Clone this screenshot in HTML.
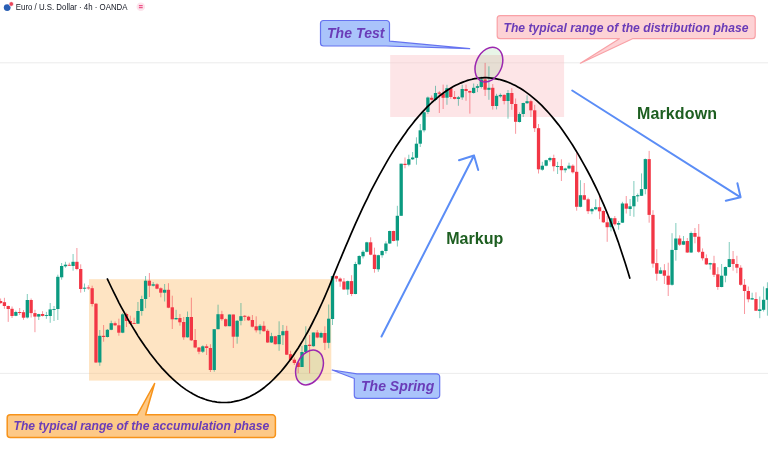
<!DOCTYPE html>
<html><head><meta charset="utf-8"><title>Wyckoff chart</title>
<style>
html,body{margin:0;padding:0;background:#fff;}
body{width:768px;height:457px;overflow:hidden;font-family:"Liberation Sans",sans-serif;}
svg{display:block;}
text{font-family:"Liberation Sans",sans-serif;}
.lbl{font-weight:bold;font-style:italic;fill:#6a3cb8;}
.grn{font-weight:bold;fill:#1d5e20;font-size:16px;}
</style></head><body>
<svg width="768" height="457" viewBox="0 0 768 457">
<rect width="768" height="457" fill="#ffffff"/>
<line x1="0" y1="62.8" x2="768" y2="62.8" stroke="#ececec" stroke-width="1"/>
<line x1="0" y1="373.4" x2="768" y2="373.4" stroke="#ececec" stroke-width="1"/>
<!-- range boxes -->
<rect x="89" y="279.2" width="242.3" height="101.4" fill="#fee4c3"/>
<rect x="390.2" y="55" width="173.9" height="62" fill="#fde5e7"/>
<line x1="89" y1="373.4" x2="331.3" y2="373.4" stroke="#f3d9b8" stroke-width="1"/>
<line x1="390.2" y1="62.8" x2="564.1" y2="62.8" stroke="#f2dadc" stroke-width="1"/>

<ellipse cx="488.9" cy="64.6" rx="12.8" ry="18.2" transform="rotate(25 488.9 64.6)" fill="rgba(76,175,80,0.13)" stroke="none"/>
<ellipse cx="309.5" cy="367.5" rx="12.8" ry="18.2" transform="rotate(25 309.5 367.5)" fill="rgba(76,175,80,0.13)" stroke="none"/>
<g id="candles">
<line x1="0.60" y1="298.5" x2="0.60" y2="303.8" stroke="#f23645" stroke-width="0.8" stroke-opacity="0.65"/>
<rect x="-1.05" y="301.0" width="3.3" height="2.1" fill="#f23645"/>
<line x1="4.42" y1="297.8" x2="4.42" y2="308.8" stroke="#f23645" stroke-width="0.8" stroke-opacity="0.65"/>
<rect x="2.77" y="302.2" width="3.3" height="3.8" fill="#f23645"/>
<line x1="8.23" y1="305.6" x2="8.23" y2="321.9" stroke="#f23645" stroke-width="0.8" stroke-opacity="0.65"/>
<rect x="6.58" y="306.0" width="3.3" height="3.0" fill="#f23645"/>
<line x1="12.04" y1="306.5" x2="12.04" y2="318.0" stroke="#f23645" stroke-width="0.8" stroke-opacity="0.65"/>
<rect x="10.39" y="308.8" width="3.3" height="7.2" fill="#f23645"/>
<line x1="15.86" y1="310.6" x2="15.86" y2="316.2" stroke="#0a9a80" stroke-width="0.8" stroke-opacity="0.65"/>
<rect x="14.21" y="312.0" width="3.3" height="3.8" fill="#0a9a80"/>
<line x1="19.68" y1="308.0" x2="19.68" y2="315.0" stroke="#f23645" stroke-width="0.8" stroke-opacity="0.65"/>
<rect x="18.03" y="312.0" width="3.3" height="1.0" fill="#f23645"/>
<line x1="23.49" y1="310.0" x2="23.49" y2="319.8" stroke="#f23645" stroke-width="0.8" stroke-opacity="0.65"/>
<rect x="21.84" y="312.2" width="3.3" height="5.5" fill="#f23645"/>
<line x1="27.30" y1="294.0" x2="27.30" y2="318.5" stroke="#0a9a80" stroke-width="0.8" stroke-opacity="0.65"/>
<rect x="25.66" y="300.0" width="3.3" height="17.5" fill="#0a9a80"/>
<line x1="31.12" y1="298.5" x2="31.12" y2="317.5" stroke="#f23645" stroke-width="0.8" stroke-opacity="0.65"/>
<rect x="29.47" y="300.0" width="3.3" height="13.1" fill="#f23645"/>
<line x1="34.94" y1="309.8" x2="34.94" y2="332.2" stroke="#f23645" stroke-width="0.8" stroke-opacity="0.65"/>
<rect x="33.29" y="313.1" width="3.3" height="3.5" fill="#f23645"/>
<line x1="38.75" y1="313.8" x2="38.75" y2="320.0" stroke="#0a9a80" stroke-width="0.8" stroke-opacity="0.65"/>
<rect x="37.10" y="314.1" width="3.3" height="2.5" fill="#0a9a80"/>
<line x1="42.56" y1="311.2" x2="42.56" y2="316.5" stroke="#f23645" stroke-width="0.8" stroke-opacity="0.65"/>
<rect x="40.91" y="314.0" width="3.3" height="1.9" fill="#f23645"/>
<line x1="46.38" y1="311.9" x2="46.38" y2="318.8" stroke="#0a9a80" stroke-width="0.8" stroke-opacity="0.65"/>
<rect x="44.73" y="315.0" width="3.3" height="0.9" fill="#0a9a80"/>
<line x1="50.20" y1="303.0" x2="50.20" y2="322.8" stroke="#0a9a80" stroke-width="0.8" stroke-opacity="0.65"/>
<rect x="48.55" y="309.4" width="3.3" height="6.6" fill="#0a9a80"/>
<line x1="54.01" y1="306.0" x2="54.01" y2="321.0" stroke="#0a9a80" stroke-width="0.8" stroke-opacity="0.65"/>
<rect x="52.36" y="309.0" width="3.3" height="0.9" fill="#0a9a80"/>
<line x1="57.83" y1="274.7" x2="57.83" y2="320.0" stroke="#0a9a80" stroke-width="0.8" stroke-opacity="0.65"/>
<rect x="56.18" y="276.8" width="3.3" height="32.2" fill="#0a9a80"/>
<line x1="61.64" y1="263.0" x2="61.64" y2="279.7" stroke="#0a9a80" stroke-width="0.8" stroke-opacity="0.65"/>
<rect x="59.99" y="266.0" width="3.3" height="11.3" fill="#0a9a80"/>
<line x1="65.45" y1="261.8" x2="65.45" y2="267.7" stroke="#0a9a80" stroke-width="0.8" stroke-opacity="0.65"/>
<rect x="63.80" y="264.7" width="3.3" height="1.6" fill="#0a9a80"/>
<line x1="69.27" y1="262.7" x2="69.27" y2="266.0" stroke="#f23645" stroke-width="0.8" stroke-opacity="0.65"/>
<rect x="67.62" y="264.8" width="3.3" height="0.9" fill="#f23645"/>
<line x1="73.08" y1="254.0" x2="73.08" y2="270.7" stroke="#0a9a80" stroke-width="0.8" stroke-opacity="0.65"/>
<rect x="71.43" y="261.8" width="3.3" height="4.2" fill="#0a9a80"/>
<line x1="76.90" y1="248.0" x2="76.90" y2="270.2" stroke="#f23645" stroke-width="0.8" stroke-opacity="0.65"/>
<rect x="75.25" y="261.8" width="3.3" height="7.2" fill="#f23645"/>
<line x1="80.71" y1="264.3" x2="80.71" y2="292.7" stroke="#f23645" stroke-width="0.8" stroke-opacity="0.65"/>
<rect x="79.06" y="269.0" width="3.3" height="20.0" fill="#f23645"/>
<line x1="84.53" y1="283.5" x2="84.53" y2="291.8" stroke="#0a9a80" stroke-width="0.8" stroke-opacity="0.65"/>
<rect x="82.88" y="287.7" width="3.3" height="1.0" fill="#0a9a80"/>
<line x1="88.34" y1="285.2" x2="88.34" y2="289.7" stroke="#f23645" stroke-width="0.8" stroke-opacity="0.65"/>
<rect x="86.69" y="287.5" width="3.3" height="0.9" fill="#f23645"/>
<line x1="92.16" y1="285.7" x2="92.16" y2="306.5" stroke="#f23645" stroke-width="0.8" stroke-opacity="0.65"/>
<rect x="90.51" y="288.2" width="3.3" height="15.8" fill="#f23645"/>
<line x1="95.97" y1="303.0" x2="95.97" y2="363.0" stroke="#f23645" stroke-width="0.8" stroke-opacity="0.65"/>
<rect x="94.32" y="303.7" width="3.3" height="58.8" fill="#f23645"/>
<line x1="99.79" y1="330.0" x2="99.79" y2="365.8" stroke="#0a9a80" stroke-width="0.8" stroke-opacity="0.65"/>
<rect x="98.14" y="335.8" width="3.3" height="26.7" fill="#0a9a80"/>
<line x1="103.60" y1="325.0" x2="103.60" y2="341.7" stroke="#f23645" stroke-width="0.8" stroke-opacity="0.65"/>
<rect x="101.95" y="335.8" width="3.3" height="1.2" fill="#f23645"/>
<line x1="107.42" y1="329.0" x2="107.42" y2="337.5" stroke="#0a9a80" stroke-width="0.8" stroke-opacity="0.65"/>
<rect x="105.77" y="329.8" width="3.3" height="7.2" fill="#0a9a80"/>
<line x1="111.23" y1="320.7" x2="111.23" y2="330.2" stroke="#0a9a80" stroke-width="0.8" stroke-opacity="0.65"/>
<rect x="109.58" y="323.2" width="3.3" height="6.6" fill="#0a9a80"/>
<line x1="115.05" y1="321.5" x2="115.05" y2="326.0" stroke="#f23645" stroke-width="0.8" stroke-opacity="0.65"/>
<rect x="113.40" y="323.2" width="3.3" height="2.1" fill="#f23645"/>
<line x1="118.86" y1="318.7" x2="118.86" y2="335.7" stroke="#f23645" stroke-width="0.8" stroke-opacity="0.65"/>
<rect x="117.21" y="325.3" width="3.3" height="7.4" fill="#f23645"/>
<line x1="122.68" y1="313.2" x2="122.68" y2="333.2" stroke="#0a9a80" stroke-width="0.8" stroke-opacity="0.65"/>
<rect x="121.03" y="314.3" width="3.3" height="18.4" fill="#0a9a80"/>
<line x1="126.49" y1="312.7" x2="126.49" y2="327.0" stroke="#f23645" stroke-width="0.8" stroke-opacity="0.65"/>
<rect x="124.84" y="314.0" width="3.3" height="7.0" fill="#f23645"/>
<line x1="130.31" y1="315.7" x2="130.31" y2="324.8" stroke="#f23645" stroke-width="0.8" stroke-opacity="0.65"/>
<rect x="128.66" y="321.0" width="3.3" height="2.7" fill="#f23645"/>
<line x1="134.12" y1="317.7" x2="134.12" y2="324.0" stroke="#f23645" stroke-width="0.8" stroke-opacity="0.65"/>
<rect x="132.47" y="323.0" width="3.3" height="0.9" fill="#f23645"/>
<line x1="137.94" y1="302.0" x2="137.94" y2="324.0" stroke="#0a9a80" stroke-width="0.8" stroke-opacity="0.65"/>
<rect x="136.29" y="311.0" width="3.3" height="12.7" fill="#0a9a80"/>
<line x1="141.75" y1="295.7" x2="141.75" y2="315.7" stroke="#0a9a80" stroke-width="0.8" stroke-opacity="0.65"/>
<rect x="140.10" y="299.0" width="3.3" height="12.0" fill="#0a9a80"/>
<line x1="145.57" y1="276.0" x2="145.57" y2="308.2" stroke="#0a9a80" stroke-width="0.8" stroke-opacity="0.65"/>
<rect x="143.92" y="280.7" width="3.3" height="18.3" fill="#0a9a80"/>
<line x1="149.38" y1="273.0" x2="149.38" y2="297.0" stroke="#f23645" stroke-width="0.8" stroke-opacity="0.65"/>
<rect x="147.73" y="280.7" width="3.3" height="5.0" fill="#f23645"/>
<line x1="153.20" y1="282.0" x2="153.20" y2="286.5" stroke="#0a9a80" stroke-width="0.8" stroke-opacity="0.65"/>
<rect x="151.55" y="284.3" width="3.3" height="1.4" fill="#0a9a80"/>
<line x1="157.01" y1="283.2" x2="157.01" y2="289.3" stroke="#f23645" stroke-width="0.8" stroke-opacity="0.65"/>
<rect x="155.36" y="284.3" width="3.3" height="4.4" fill="#f23645"/>
<line x1="160.83" y1="287.3" x2="160.83" y2="297.3" stroke="#f23645" stroke-width="0.8" stroke-opacity="0.65"/>
<rect x="159.18" y="288.3" width="3.3" height="4.4" fill="#f23645"/>
<line x1="164.64" y1="284.0" x2="164.64" y2="301.5" stroke="#0a9a80" stroke-width="0.8" stroke-opacity="0.65"/>
<rect x="162.99" y="289.8" width="3.3" height="2.9" fill="#0a9a80"/>
<line x1="168.46" y1="283.2" x2="168.46" y2="308.2" stroke="#f23645" stroke-width="0.8" stroke-opacity="0.65"/>
<rect x="166.81" y="289.8" width="3.3" height="17.9" fill="#f23645"/>
<line x1="172.28" y1="295.7" x2="172.28" y2="329.0" stroke="#f23645" stroke-width="0.8" stroke-opacity="0.65"/>
<rect x="170.62" y="307.3" width="3.3" height="12.0" fill="#f23645"/>
<line x1="176.09" y1="309.8" x2="176.09" y2="319.8" stroke="#0a9a80" stroke-width="0.8" stroke-opacity="0.65"/>
<rect x="174.44" y="318.0" width="3.3" height="1.3" fill="#0a9a80"/>
<line x1="179.91" y1="314.0" x2="179.91" y2="325.7" stroke="#f23645" stroke-width="0.8" stroke-opacity="0.65"/>
<rect x="178.25" y="318.0" width="3.3" height="4.3" fill="#f23645"/>
<line x1="183.72" y1="317.0" x2="183.72" y2="339.8" stroke="#f23645" stroke-width="0.8" stroke-opacity="0.65"/>
<rect x="182.07" y="322.0" width="3.3" height="15.3" fill="#f23645"/>
<line x1="187.53" y1="311.5" x2="187.53" y2="337.7" stroke="#0a9a80" stroke-width="0.8" stroke-opacity="0.65"/>
<rect x="185.88" y="317.0" width="3.3" height="20.3" fill="#0a9a80"/>
<line x1="191.35" y1="297.7" x2="191.35" y2="341.0" stroke="#f23645" stroke-width="0.8" stroke-opacity="0.65"/>
<rect x="189.70" y="317.0" width="3.3" height="23.3" fill="#f23645"/>
<line x1="195.16" y1="329.0" x2="195.16" y2="348.2" stroke="#f23645" stroke-width="0.8" stroke-opacity="0.65"/>
<rect x="193.51" y="340.0" width="3.3" height="7.5" fill="#f23645"/>
<line x1="198.98" y1="347.0" x2="198.98" y2="354.2" stroke="#f23645" stroke-width="0.8" stroke-opacity="0.65"/>
<rect x="197.33" y="347.5" width="3.3" height="4.2" fill="#f23645"/>
<line x1="202.79" y1="345.3" x2="202.79" y2="353.0" stroke="#0a9a80" stroke-width="0.8" stroke-opacity="0.65"/>
<rect x="201.14" y="346.3" width="3.3" height="5.4" fill="#0a9a80"/>
<line x1="206.61" y1="344.2" x2="206.61" y2="355.0" stroke="#f23645" stroke-width="0.8" stroke-opacity="0.65"/>
<rect x="204.96" y="346.3" width="3.3" height="1.7" fill="#f23645"/>
<line x1="210.42" y1="344.2" x2="210.42" y2="372.0" stroke="#f23645" stroke-width="0.8" stroke-opacity="0.65"/>
<rect x="208.77" y="348.0" width="3.3" height="22.0" fill="#f23645"/>
<line x1="214.24" y1="329.2" x2="214.24" y2="371.7" stroke="#0a9a80" stroke-width="0.8" stroke-opacity="0.65"/>
<rect x="212.59" y="329.2" width="3.3" height="40.8" fill="#0a9a80"/>
<line x1="218.05" y1="304.7" x2="218.05" y2="329.2" stroke="#0a9a80" stroke-width="0.8" stroke-opacity="0.65"/>
<rect x="216.40" y="314.2" width="3.3" height="15.0" fill="#0a9a80"/>
<line x1="221.87" y1="310.8" x2="221.87" y2="320.8" stroke="#f23645" stroke-width="0.8" stroke-opacity="0.65"/>
<rect x="220.22" y="314.2" width="3.3" height="5.0" fill="#f23645"/>
<line x1="225.69" y1="318.3" x2="225.69" y2="326.7" stroke="#f23645" stroke-width="0.8" stroke-opacity="0.65"/>
<rect x="224.03" y="319.2" width="3.3" height="7.0" fill="#f23645"/>
<line x1="229.50" y1="314.5" x2="229.50" y2="326.2" stroke="#0a9a80" stroke-width="0.8" stroke-opacity="0.65"/>
<rect x="227.85" y="314.5" width="3.3" height="11.7" fill="#0a9a80"/>
<line x1="233.31" y1="314.5" x2="233.31" y2="348.0" stroke="#f23645" stroke-width="0.8" stroke-opacity="0.65"/>
<rect x="231.66" y="314.5" width="3.3" height="22.2" fill="#f23645"/>
<line x1="237.13" y1="320.0" x2="237.13" y2="343.7" stroke="#0a9a80" stroke-width="0.8" stroke-opacity="0.65"/>
<rect x="235.48" y="320.8" width="3.3" height="15.9" fill="#0a9a80"/>
<line x1="240.94" y1="303.0" x2="240.94" y2="325.3" stroke="#0a9a80" stroke-width="0.8" stroke-opacity="0.65"/>
<rect x="239.29" y="316.2" width="3.3" height="4.6" fill="#0a9a80"/>
<line x1="244.76" y1="315.0" x2="244.76" y2="320.8" stroke="#f23645" stroke-width="0.8" stroke-opacity="0.65"/>
<rect x="243.11" y="315.8" width="3.3" height="1.0" fill="#f23645"/>
<line x1="248.57" y1="315.8" x2="248.57" y2="320.8" stroke="#f23645" stroke-width="0.8" stroke-opacity="0.65"/>
<rect x="246.92" y="316.7" width="3.3" height="3.6" fill="#f23645"/>
<line x1="252.39" y1="315.0" x2="252.39" y2="327.5" stroke="#f23645" stroke-width="0.8" stroke-opacity="0.65"/>
<rect x="250.74" y="320.0" width="3.3" height="6.7" fill="#f23645"/>
<line x1="256.20" y1="316.3" x2="256.20" y2="332.5" stroke="#f23645" stroke-width="0.8" stroke-opacity="0.65"/>
<rect x="254.55" y="326.3" width="3.3" height="4.0" fill="#f23645"/>
<line x1="260.02" y1="324.2" x2="260.02" y2="334.2" stroke="#0a9a80" stroke-width="0.8" stroke-opacity="0.65"/>
<rect x="258.37" y="325.8" width="3.3" height="4.5" fill="#0a9a80"/>
<line x1="263.84" y1="321.3" x2="263.84" y2="331.7" stroke="#f23645" stroke-width="0.8" stroke-opacity="0.65"/>
<rect x="262.19" y="325.8" width="3.3" height="5.4" fill="#f23645"/>
<line x1="267.65" y1="329.2" x2="267.65" y2="343.0" stroke="#f23645" stroke-width="0.8" stroke-opacity="0.65"/>
<rect x="266.00" y="330.8" width="3.3" height="11.7" fill="#f23645"/>
<line x1="271.47" y1="332.8" x2="271.47" y2="343.0" stroke="#0a9a80" stroke-width="0.8" stroke-opacity="0.65"/>
<rect x="269.82" y="336.2" width="3.3" height="6.3" fill="#0a9a80"/>
<line x1="275.28" y1="335.8" x2="275.28" y2="344.7" stroke="#f23645" stroke-width="0.8" stroke-opacity="0.65"/>
<rect x="273.63" y="336.2" width="3.3" height="8.0" fill="#f23645"/>
<line x1="279.10" y1="321.3" x2="279.10" y2="350.8" stroke="#0a9a80" stroke-width="0.8" stroke-opacity="0.65"/>
<rect x="277.45" y="335.0" width="3.3" height="9.2" fill="#0a9a80"/>
<line x1="282.91" y1="325.0" x2="282.91" y2="345.0" stroke="#0a9a80" stroke-width="0.8" stroke-opacity="0.65"/>
<rect x="281.26" y="331.2" width="3.3" height="4.1" fill="#0a9a80"/>
<line x1="286.73" y1="325.8" x2="286.73" y2="355.0" stroke="#f23645" stroke-width="0.8" stroke-opacity="0.65"/>
<rect x="285.08" y="330.8" width="3.3" height="23.9" fill="#f23645"/>
<line x1="290.54" y1="350.8" x2="290.54" y2="360.3" stroke="#f23645" stroke-width="0.8" stroke-opacity="0.65"/>
<rect x="288.89" y="354.2" width="3.3" height="5.8" fill="#f23645"/>
<line x1="294.36" y1="357.5" x2="294.36" y2="365.0" stroke="#f23645" stroke-width="0.8" stroke-opacity="0.65"/>
<rect x="292.71" y="359.7" width="3.3" height="3.3" fill="#f23645"/>
<line x1="298.17" y1="361.7" x2="298.17" y2="373.3" stroke="#f23645" stroke-width="0.8" stroke-opacity="0.65"/>
<rect x="296.52" y="362.5" width="3.3" height="4.5" fill="#f23645"/>
<line x1="301.99" y1="345.8" x2="301.99" y2="367.0" stroke="#0a9a80" stroke-width="0.8" stroke-opacity="0.65"/>
<rect x="300.34" y="352.0" width="3.3" height="15.0" fill="#0a9a80"/>
<line x1="305.80" y1="326.3" x2="305.80" y2="352.5" stroke="#0a9a80" stroke-width="0.8" stroke-opacity="0.65"/>
<rect x="304.15" y="345.0" width="3.3" height="7.0" fill="#0a9a80"/>
<line x1="309.62" y1="335.0" x2="309.62" y2="373.3" stroke="#f23645" stroke-width="0.8" stroke-opacity="0.65"/>
<rect x="307.97" y="344.7" width="3.3" height="1.3" fill="#f23645"/>
<line x1="313.43" y1="332.5" x2="313.43" y2="346.7" stroke="#0a9a80" stroke-width="0.8" stroke-opacity="0.65"/>
<rect x="311.78" y="332.5" width="3.3" height="13.7" fill="#0a9a80"/>
<line x1="317.25" y1="330.0" x2="317.25" y2="338.3" stroke="#f23645" stroke-width="0.8" stroke-opacity="0.65"/>
<rect x="315.60" y="332.5" width="3.3" height="5.0" fill="#f23645"/>
<line x1="321.06" y1="331.7" x2="321.06" y2="338.0" stroke="#0a9a80" stroke-width="0.8" stroke-opacity="0.65"/>
<rect x="319.41" y="333.0" width="3.3" height="4.5" fill="#0a9a80"/>
<line x1="324.88" y1="326.3" x2="324.88" y2="350.0" stroke="#f23645" stroke-width="0.8" stroke-opacity="0.65"/>
<rect x="323.23" y="333.0" width="3.3" height="9.8" fill="#f23645"/>
<line x1="328.69" y1="304.5" x2="328.69" y2="348.3" stroke="#0a9a80" stroke-width="0.8" stroke-opacity="0.65"/>
<rect x="327.04" y="318.7" width="3.3" height="24.1" fill="#0a9a80"/>
<line x1="332.50" y1="276.1" x2="332.50" y2="325.0" stroke="#0a9a80" stroke-width="0.8" stroke-opacity="0.65"/>
<rect x="330.86" y="276.1" width="3.3" height="42.9" fill="#0a9a80"/>
<line x1="336.32" y1="275.5" x2="336.32" y2="281.8" stroke="#f23645" stroke-width="0.8" stroke-opacity="0.65"/>
<rect x="334.67" y="276.1" width="3.3" height="2.5" fill="#f23645"/>
<line x1="340.13" y1="277.4" x2="340.13" y2="286.8" stroke="#f23645" stroke-width="0.8" stroke-opacity="0.65"/>
<rect x="338.49" y="278.6" width="3.3" height="2.9" fill="#f23645"/>
<line x1="343.95" y1="278.0" x2="343.95" y2="289.9" stroke="#f23645" stroke-width="0.8" stroke-opacity="0.65"/>
<rect x="342.30" y="281.5" width="3.3" height="8.0" fill="#f23645"/>
<line x1="347.77" y1="280.5" x2="347.77" y2="294.9" stroke="#0a9a80" stroke-width="0.8" stroke-opacity="0.65"/>
<rect x="346.12" y="281.1" width="3.3" height="8.4" fill="#0a9a80"/>
<line x1="351.58" y1="275.2" x2="351.58" y2="296.1" stroke="#f23645" stroke-width="0.8" stroke-opacity="0.65"/>
<rect x="349.93" y="281.1" width="3.3" height="12.9" fill="#f23645"/>
<line x1="355.40" y1="261.8" x2="355.40" y2="294.3" stroke="#0a9a80" stroke-width="0.8" stroke-opacity="0.65"/>
<rect x="353.75" y="264.0" width="3.3" height="30.0" fill="#0a9a80"/>
<line x1="359.21" y1="255.2" x2="359.21" y2="265.2" stroke="#0a9a80" stroke-width="0.8" stroke-opacity="0.65"/>
<rect x="357.56" y="256.0" width="3.3" height="8.3" fill="#0a9a80"/>
<line x1="363.03" y1="250.2" x2="363.03" y2="258.5" stroke="#0a9a80" stroke-width="0.8" stroke-opacity="0.65"/>
<rect x="361.38" y="251.8" width="3.3" height="4.5" fill="#0a9a80"/>
<line x1="366.84" y1="241.8" x2="366.84" y2="252.3" stroke="#0a9a80" stroke-width="0.8" stroke-opacity="0.65"/>
<rect x="365.19" y="242.3" width="3.3" height="9.5" fill="#0a9a80"/>
<line x1="370.66" y1="237.3" x2="370.66" y2="255.2" stroke="#f23645" stroke-width="0.8" stroke-opacity="0.65"/>
<rect x="369.01" y="242.3" width="3.3" height="12.4" fill="#f23645"/>
<line x1="374.47" y1="247.7" x2="374.47" y2="272.7" stroke="#f23645" stroke-width="0.8" stroke-opacity="0.65"/>
<rect x="372.82" y="254.7" width="3.3" height="14.3" fill="#f23645"/>
<line x1="378.29" y1="254.7" x2="378.29" y2="271.8" stroke="#0a9a80" stroke-width="0.8" stroke-opacity="0.65"/>
<rect x="376.64" y="255.2" width="3.3" height="14.1" fill="#0a9a80"/>
<line x1="382.10" y1="250.2" x2="382.10" y2="257.7" stroke="#0a9a80" stroke-width="0.8" stroke-opacity="0.65"/>
<rect x="380.45" y="251.0" width="3.3" height="4.2" fill="#0a9a80"/>
<line x1="385.92" y1="241.3" x2="385.92" y2="253.5" stroke="#0a9a80" stroke-width="0.8" stroke-opacity="0.65"/>
<rect x="384.27" y="243.5" width="3.3" height="7.5" fill="#0a9a80"/>
<line x1="389.73" y1="230.7" x2="389.73" y2="244.0" stroke="#0a9a80" stroke-width="0.8" stroke-opacity="0.65"/>
<rect x="388.08" y="231.0" width="3.3" height="12.5" fill="#0a9a80"/>
<line x1="393.55" y1="230.7" x2="393.55" y2="241.3" stroke="#f23645" stroke-width="0.8" stroke-opacity="0.65"/>
<rect x="391.90" y="231.0" width="3.3" height="10.0" fill="#f23645"/>
<line x1="397.36" y1="205.8" x2="397.36" y2="246.5" stroke="#0a9a80" stroke-width="0.8" stroke-opacity="0.65"/>
<rect x="395.71" y="215.8" width="3.3" height="24.7" fill="#0a9a80"/>
<line x1="401.18" y1="163.7" x2="401.18" y2="215.8" stroke="#0a9a80" stroke-width="0.8" stroke-opacity="0.65"/>
<rect x="399.53" y="163.7" width="3.3" height="52.1" fill="#0a9a80"/>
<line x1="404.99" y1="157.5" x2="404.99" y2="168.3" stroke="#f23645" stroke-width="0.8" stroke-opacity="0.65"/>
<rect x="403.34" y="163.8" width="3.3" height="1.2" fill="#f23645"/>
<line x1="408.81" y1="154.7" x2="408.81" y2="166.3" stroke="#0a9a80" stroke-width="0.8" stroke-opacity="0.65"/>
<rect x="407.16" y="159.2" width="3.3" height="5.5" fill="#0a9a80"/>
<line x1="412.62" y1="152.0" x2="412.62" y2="160.0" stroke="#0a9a80" stroke-width="0.8" stroke-opacity="0.65"/>
<rect x="410.97" y="157.5" width="3.3" height="1.8" fill="#0a9a80"/>
<line x1="416.44" y1="137.3" x2="416.44" y2="164.7" stroke="#0a9a80" stroke-width="0.8" stroke-opacity="0.65"/>
<rect x="414.79" y="143.7" width="3.3" height="14.1" fill="#0a9a80"/>
<line x1="420.25" y1="124.0" x2="420.25" y2="147.0" stroke="#0a9a80" stroke-width="0.8" stroke-opacity="0.65"/>
<rect x="418.60" y="130.3" width="3.3" height="13.4" fill="#0a9a80"/>
<line x1="424.06" y1="112.0" x2="424.06" y2="132.3" stroke="#0a9a80" stroke-width="0.8" stroke-opacity="0.65"/>
<rect x="422.42" y="112.3" width="3.3" height="18.0" fill="#0a9a80"/>
<line x1="427.88" y1="96.5" x2="427.88" y2="114.0" stroke="#0a9a80" stroke-width="0.8" stroke-opacity="0.65"/>
<rect x="426.23" y="97.5" width="3.3" height="14.5" fill="#0a9a80"/>
<line x1="431.69" y1="95.5" x2="431.69" y2="100.5" stroke="#f23645" stroke-width="0.8" stroke-opacity="0.65"/>
<rect x="430.05" y="97.8" width="3.3" height="2.0" fill="#f23645"/>
<line x1="435.51" y1="85.8" x2="435.51" y2="101.2" stroke="#0a9a80" stroke-width="0.8" stroke-opacity="0.65"/>
<rect x="433.86" y="93.0" width="3.3" height="7.0" fill="#0a9a80"/>
<line x1="439.32" y1="91.0" x2="439.32" y2="113.0" stroke="#f23645" stroke-width="0.8" stroke-opacity="0.65"/>
<rect x="437.68" y="92.5" width="3.3" height="1.2" fill="#f23645"/>
<line x1="443.14" y1="84.6" x2="443.14" y2="109.0" stroke="#f23645" stroke-width="0.8" stroke-opacity="0.65"/>
<rect x="441.49" y="93.8" width="3.3" height="4.0" fill="#f23645"/>
<line x1="446.96" y1="84.8" x2="446.96" y2="104.8" stroke="#0a9a80" stroke-width="0.8" stroke-opacity="0.65"/>
<rect x="445.31" y="88.2" width="3.3" height="9.5" fill="#0a9a80"/>
<line x1="450.77" y1="87.8" x2="450.77" y2="98.8" stroke="#f23645" stroke-width="0.8" stroke-opacity="0.65"/>
<rect x="449.12" y="88.2" width="3.3" height="8.8" fill="#f23645"/>
<line x1="454.59" y1="91.0" x2="454.59" y2="99.4" stroke="#f23645" stroke-width="0.8" stroke-opacity="0.65"/>
<rect x="452.94" y="97.0" width="3.3" height="1.9" fill="#f23645"/>
<line x1="458.40" y1="96.0" x2="458.40" y2="105.8" stroke="#0a9a80" stroke-width="0.8" stroke-opacity="0.65"/>
<rect x="456.75" y="97.3" width="3.3" height="1.6" fill="#0a9a80"/>
<line x1="462.22" y1="84.8" x2="462.22" y2="99.8" stroke="#0a9a80" stroke-width="0.8" stroke-opacity="0.65"/>
<rect x="460.57" y="89.0" width="3.3" height="8.4" fill="#0a9a80"/>
<line x1="466.03" y1="84.6" x2="466.03" y2="100.8" stroke="#f23645" stroke-width="0.8" stroke-opacity="0.65"/>
<rect x="464.38" y="89.0" width="3.3" height="2.0" fill="#f23645"/>
<line x1="469.85" y1="90.5" x2="469.85" y2="113.6" stroke="#f23645" stroke-width="0.8" stroke-opacity="0.65"/>
<rect x="468.20" y="91.0" width="3.3" height="1.6" fill="#f23645"/>
<line x1="473.66" y1="83.5" x2="473.66" y2="93.6" stroke="#0a9a80" stroke-width="0.8" stroke-opacity="0.65"/>
<rect x="472.01" y="87.8" width="3.3" height="5.2" fill="#0a9a80"/>
<line x1="477.48" y1="84.1" x2="477.48" y2="92.1" stroke="#0a9a80" stroke-width="0.8" stroke-opacity="0.65"/>
<rect x="475.83" y="86.2" width="3.3" height="1.6" fill="#0a9a80"/>
<line x1="481.29" y1="76.6" x2="481.29" y2="88.5" stroke="#0a9a80" stroke-width="0.8" stroke-opacity="0.65"/>
<rect x="479.64" y="79.5" width="3.3" height="7.5" fill="#0a9a80"/>
<line x1="485.11" y1="62.9" x2="485.11" y2="96.0" stroke="#f23645" stroke-width="0.8" stroke-opacity="0.65"/>
<rect x="483.46" y="79.5" width="3.3" height="10.2" fill="#f23645"/>
<line x1="488.92" y1="66.3" x2="488.92" y2="99.8" stroke="#0a9a80" stroke-width="0.8" stroke-opacity="0.65"/>
<rect x="487.27" y="87.8" width="3.3" height="2.0" fill="#0a9a80"/>
<line x1="492.74" y1="84.1" x2="492.74" y2="109.6" stroke="#f23645" stroke-width="0.8" stroke-opacity="0.65"/>
<rect x="491.09" y="87.8" width="3.3" height="18.2" fill="#f23645"/>
<line x1="496.55" y1="93.8" x2="496.55" y2="109.4" stroke="#0a9a80" stroke-width="0.8" stroke-opacity="0.65"/>
<rect x="494.90" y="95.8" width="3.3" height="10.2" fill="#0a9a80"/>
<line x1="500.37" y1="93.4" x2="500.37" y2="97.8" stroke="#0a9a80" stroke-width="0.8" stroke-opacity="0.65"/>
<rect x="498.72" y="94.9" width="3.3" height="1.5" fill="#0a9a80"/>
<line x1="504.18" y1="94.3" x2="504.18" y2="104.4" stroke="#f23645" stroke-width="0.8" stroke-opacity="0.65"/>
<rect x="502.53" y="94.9" width="3.3" height="6.1" fill="#f23645"/>
<line x1="508.00" y1="90.0" x2="508.00" y2="118.7" stroke="#0a9a80" stroke-width="0.8" stroke-opacity="0.65"/>
<rect x="506.35" y="93.0" width="3.3" height="8.0" fill="#0a9a80"/>
<line x1="511.81" y1="88.2" x2="511.81" y2="109.8" stroke="#f23645" stroke-width="0.8" stroke-opacity="0.65"/>
<rect x="510.16" y="93.0" width="3.3" height="11.0" fill="#f23645"/>
<line x1="515.62" y1="98.5" x2="515.62" y2="133.8" stroke="#f23645" stroke-width="0.8" stroke-opacity="0.65"/>
<rect x="513.98" y="104.0" width="3.3" height="17.8" fill="#f23645"/>
<line x1="519.44" y1="112.3" x2="519.44" y2="122.5" stroke="#0a9a80" stroke-width="0.8" stroke-opacity="0.65"/>
<rect x="517.79" y="114.0" width="3.3" height="8.0" fill="#0a9a80"/>
<line x1="523.25" y1="102.7" x2="523.25" y2="117.0" stroke="#0a9a80" stroke-width="0.8" stroke-opacity="0.65"/>
<rect x="521.61" y="103.0" width="3.3" height="11.0" fill="#0a9a80"/>
<line x1="527.07" y1="95.3" x2="527.07" y2="104.0" stroke="#0a9a80" stroke-width="0.8" stroke-opacity="0.65"/>
<rect x="525.42" y="101.2" width="3.3" height="2.0" fill="#0a9a80"/>
<line x1="530.88" y1="99.8" x2="530.88" y2="117.0" stroke="#f23645" stroke-width="0.8" stroke-opacity="0.65"/>
<rect x="529.24" y="101.2" width="3.3" height="9.1" fill="#f23645"/>
<line x1="534.70" y1="104.8" x2="534.70" y2="132.0" stroke="#f23645" stroke-width="0.8" stroke-opacity="0.65"/>
<rect x="533.05" y="110.3" width="3.3" height="17.9" fill="#f23645"/>
<line x1="538.51" y1="124.0" x2="538.51" y2="173.5" stroke="#f23645" stroke-width="0.8" stroke-opacity="0.65"/>
<rect x="536.87" y="128.2" width="3.3" height="41.1" fill="#f23645"/>
<line x1="542.33" y1="161.8" x2="542.33" y2="170.7" stroke="#0a9a80" stroke-width="0.8" stroke-opacity="0.65"/>
<rect x="540.68" y="165.7" width="3.3" height="4.0" fill="#0a9a80"/>
<line x1="546.14" y1="159.7" x2="546.14" y2="166.3" stroke="#0a9a80" stroke-width="0.8" stroke-opacity="0.65"/>
<rect x="544.50" y="160.2" width="3.3" height="5.5" fill="#0a9a80"/>
<line x1="549.96" y1="156.8" x2="549.96" y2="161.8" stroke="#0a9a80" stroke-width="0.8" stroke-opacity="0.65"/>
<rect x="548.31" y="158.0" width="3.3" height="2.2" fill="#0a9a80"/>
<line x1="553.77" y1="154.7" x2="553.77" y2="171.3" stroke="#f23645" stroke-width="0.8" stroke-opacity="0.65"/>
<rect x="552.12" y="158.0" width="3.3" height="8.3" fill="#f23645"/>
<line x1="557.59" y1="161.8" x2="557.59" y2="174.0" stroke="#0a9a80" stroke-width="0.8" stroke-opacity="0.65"/>
<rect x="555.94" y="166.0" width="3.3" height="0.9" fill="#0a9a80"/>
<line x1="561.40" y1="159.3" x2="561.40" y2="181.0" stroke="#f23645" stroke-width="0.8" stroke-opacity="0.65"/>
<rect x="559.75" y="166.0" width="3.3" height="4.2" fill="#f23645"/>
<line x1="565.22" y1="167.7" x2="565.22" y2="172.7" stroke="#0a9a80" stroke-width="0.8" stroke-opacity="0.65"/>
<rect x="563.57" y="168.5" width="3.3" height="1.7" fill="#0a9a80"/>
<line x1="569.03" y1="162.7" x2="569.03" y2="169.3" stroke="#0a9a80" stroke-width="0.8" stroke-opacity="0.65"/>
<rect x="567.38" y="165.7" width="3.3" height="2.8" fill="#0a9a80"/>
<line x1="572.85" y1="164.3" x2="572.85" y2="173.5" stroke="#f23645" stroke-width="0.8" stroke-opacity="0.65"/>
<rect x="571.20" y="165.7" width="3.3" height="6.6" fill="#f23645"/>
<line x1="576.66" y1="152.7" x2="576.66" y2="210.7" stroke="#f23645" stroke-width="0.8" stroke-opacity="0.65"/>
<rect x="575.01" y="171.8" width="3.3" height="35.0" fill="#f23645"/>
<line x1="580.48" y1="180.2" x2="580.48" y2="207.3" stroke="#0a9a80" stroke-width="0.8" stroke-opacity="0.65"/>
<rect x="578.83" y="195.2" width="3.3" height="11.6" fill="#0a9a80"/>
<line x1="584.29" y1="183.0" x2="584.29" y2="200.2" stroke="#f23645" stroke-width="0.8" stroke-opacity="0.65"/>
<rect x="582.64" y="195.2" width="3.3" height="4.5" fill="#f23645"/>
<line x1="588.11" y1="197.7" x2="588.11" y2="214.0" stroke="#f23645" stroke-width="0.8" stroke-opacity="0.65"/>
<rect x="586.46" y="199.3" width="3.3" height="11.9" fill="#f23645"/>
<line x1="591.93" y1="207.8" x2="591.93" y2="214.2" stroke="#0a9a80" stroke-width="0.8" stroke-opacity="0.65"/>
<rect x="590.28" y="209.0" width="3.3" height="2.3" fill="#0a9a80"/>
<line x1="595.74" y1="199.3" x2="595.74" y2="210.2" stroke="#0a9a80" stroke-width="0.8" stroke-opacity="0.65"/>
<rect x="594.09" y="207.2" width="3.3" height="2.1" fill="#0a9a80"/>
<line x1="599.56" y1="196.4" x2="599.56" y2="219.2" stroke="#f23645" stroke-width="0.8" stroke-opacity="0.65"/>
<rect x="597.91" y="207.2" width="3.3" height="4.1" fill="#f23645"/>
<line x1="603.37" y1="210.2" x2="603.37" y2="223.0" stroke="#f23645" stroke-width="0.8" stroke-opacity="0.65"/>
<rect x="601.72" y="211.0" width="3.3" height="11.3" fill="#f23645"/>
<line x1="607.19" y1="216.0" x2="607.19" y2="241.8" stroke="#f23645" stroke-width="0.8" stroke-opacity="0.65"/>
<rect x="605.54" y="222.3" width="3.3" height="4.9" fill="#f23645"/>
<line x1="611.00" y1="217.7" x2="611.00" y2="231.3" stroke="#0a9a80" stroke-width="0.8" stroke-opacity="0.65"/>
<rect x="609.35" y="218.2" width="3.3" height="9.0" fill="#0a9a80"/>
<line x1="614.82" y1="216.0" x2="614.82" y2="225.7" stroke="#f23645" stroke-width="0.8" stroke-opacity="0.65"/>
<rect x="613.17" y="218.2" width="3.3" height="6.1" fill="#f23645"/>
<line x1="618.63" y1="221.0" x2="618.63" y2="229.7" stroke="#0a9a80" stroke-width="0.8" stroke-opacity="0.65"/>
<rect x="616.98" y="223.0" width="3.3" height="1.7" fill="#0a9a80"/>
<line x1="622.45" y1="201.8" x2="622.45" y2="223.0" stroke="#0a9a80" stroke-width="0.8" stroke-opacity="0.65"/>
<rect x="620.80" y="203.5" width="3.3" height="19.2" fill="#0a9a80"/>
<line x1="626.26" y1="196.0" x2="626.26" y2="213.5" stroke="#f23645" stroke-width="0.8" stroke-opacity="0.65"/>
<rect x="624.61" y="203.5" width="3.3" height="5.2" fill="#f23645"/>
<line x1="630.08" y1="199.0" x2="630.08" y2="216.0" stroke="#0a9a80" stroke-width="0.8" stroke-opacity="0.65"/>
<rect x="628.43" y="206.3" width="3.3" height="2.7" fill="#0a9a80"/>
<line x1="633.89" y1="181.0" x2="633.89" y2="216.8" stroke="#0a9a80" stroke-width="0.8" stroke-opacity="0.65"/>
<rect x="632.24" y="196.0" width="3.3" height="10.3" fill="#0a9a80"/>
<line x1="637.71" y1="193.5" x2="637.71" y2="201.8" stroke="#0a9a80" stroke-width="0.8" stroke-opacity="0.65"/>
<rect x="636.06" y="195.2" width="3.3" height="1.1" fill="#0a9a80"/>
<line x1="641.52" y1="173.4" x2="641.52" y2="196.0" stroke="#0a9a80" stroke-width="0.8" stroke-opacity="0.65"/>
<rect x="639.87" y="189.1" width="3.3" height="6.7" fill="#0a9a80"/>
<line x1="645.34" y1="158.5" x2="645.34" y2="194.3" stroke="#0a9a80" stroke-width="0.8" stroke-opacity="0.65"/>
<rect x="643.69" y="159.1" width="3.3" height="30.0" fill="#0a9a80"/>
<line x1="649.15" y1="150.9" x2="649.15" y2="222.7" stroke="#f23645" stroke-width="0.8" stroke-opacity="0.65"/>
<rect x="647.50" y="159.1" width="3.3" height="55.8" fill="#f23645"/>
<line x1="652.97" y1="210.2" x2="652.97" y2="267.7" stroke="#f23645" stroke-width="0.8" stroke-opacity="0.65"/>
<rect x="651.32" y="214.9" width="3.3" height="48.7" fill="#f23645"/>
<line x1="656.78" y1="249.2" x2="656.78" y2="280.7" stroke="#f23645" stroke-width="0.8" stroke-opacity="0.65"/>
<rect x="655.13" y="263.1" width="3.3" height="10.6" fill="#f23645"/>
<line x1="660.60" y1="267.3" x2="660.60" y2="274.0" stroke="#0a9a80" stroke-width="0.8" stroke-opacity="0.65"/>
<rect x="658.95" y="270.3" width="3.3" height="3.4" fill="#0a9a80"/>
<line x1="664.41" y1="264.1" x2="664.41" y2="284.0" stroke="#f23645" stroke-width="0.8" stroke-opacity="0.65"/>
<rect x="662.76" y="270.3" width="3.3" height="5.4" fill="#f23645"/>
<line x1="668.23" y1="262.7" x2="668.23" y2="296.0" stroke="#f23645" stroke-width="0.8" stroke-opacity="0.65"/>
<rect x="666.58" y="275.7" width="3.3" height="9.1" fill="#f23645"/>
<line x1="672.04" y1="233.2" x2="672.04" y2="285.7" stroke="#0a9a80" stroke-width="0.8" stroke-opacity="0.65"/>
<rect x="670.39" y="249.9" width="3.3" height="34.9" fill="#0a9a80"/>
<line x1="675.86" y1="223.0" x2="675.86" y2="260.7" stroke="#0a9a80" stroke-width="0.8" stroke-opacity="0.65"/>
<rect x="674.21" y="238.5" width="3.3" height="11.5" fill="#0a9a80"/>
<line x1="679.67" y1="235.3" x2="679.67" y2="246.0" stroke="#f23645" stroke-width="0.8" stroke-opacity="0.65"/>
<rect x="678.02" y="238.5" width="3.3" height="6.2" fill="#f23645"/>
<line x1="683.49" y1="236.0" x2="683.49" y2="245.1" stroke="#0a9a80" stroke-width="0.8" stroke-opacity="0.65"/>
<rect x="681.84" y="241.2" width="3.3" height="3.5" fill="#0a9a80"/>
<line x1="687.30" y1="238.0" x2="687.30" y2="253.0" stroke="#f23645" stroke-width="0.8" stroke-opacity="0.65"/>
<rect x="685.65" y="241.0" width="3.3" height="11.5" fill="#f23645"/>
<line x1="691.12" y1="231.5" x2="691.12" y2="253.0" stroke="#0a9a80" stroke-width="0.8" stroke-opacity="0.65"/>
<rect x="689.47" y="233.0" width="3.3" height="19.5" fill="#0a9a80"/>
<line x1="694.93" y1="228.0" x2="694.93" y2="243.3" stroke="#f23645" stroke-width="0.8" stroke-opacity="0.65"/>
<rect x="693.28" y="233.0" width="3.3" height="3.8" fill="#f23645"/>
<line x1="698.75" y1="224.0" x2="698.75" y2="253.0" stroke="#f23645" stroke-width="0.8" stroke-opacity="0.65"/>
<rect x="697.10" y="236.7" width="3.3" height="15.1" fill="#f23645"/>
<line x1="702.56" y1="248.4" x2="702.56" y2="260.5" stroke="#f23645" stroke-width="0.8" stroke-opacity="0.65"/>
<rect x="700.91" y="251.8" width="3.3" height="6.5" fill="#f23645"/>
<line x1="706.38" y1="254.4" x2="706.38" y2="265.0" stroke="#f23645" stroke-width="0.8" stroke-opacity="0.65"/>
<rect x="704.73" y="258.2" width="3.3" height="6.2" fill="#f23645"/>
<line x1="710.19" y1="262.7" x2="710.19" y2="269.5" stroke="#0a9a80" stroke-width="0.8" stroke-opacity="0.65"/>
<rect x="708.54" y="263.1" width="3.3" height="1.4" fill="#0a9a80"/>
<line x1="714.00" y1="255.8" x2="714.00" y2="277.0" stroke="#f23645" stroke-width="0.8" stroke-opacity="0.65"/>
<rect x="712.36" y="263.2" width="3.3" height="11.6" fill="#f23645"/>
<line x1="717.82" y1="267.2" x2="717.82" y2="289.8" stroke="#f23645" stroke-width="0.8" stroke-opacity="0.65"/>
<rect x="716.17" y="274.3" width="3.3" height="12.7" fill="#f23645"/>
<line x1="721.63" y1="264.0" x2="721.63" y2="287.3" stroke="#0a9a80" stroke-width="0.8" stroke-opacity="0.65"/>
<rect x="719.99" y="275.7" width="3.3" height="11.3" fill="#0a9a80"/>
<line x1="725.45" y1="266.5" x2="725.45" y2="282.3" stroke="#0a9a80" stroke-width="0.8" stroke-opacity="0.65"/>
<rect x="723.80" y="267.0" width="3.3" height="8.7" fill="#0a9a80"/>
<line x1="729.26" y1="242.0" x2="729.26" y2="267.5" stroke="#0a9a80" stroke-width="0.8" stroke-opacity="0.65"/>
<rect x="727.62" y="259.1" width="3.3" height="7.9" fill="#0a9a80"/>
<line x1="733.08" y1="251.0" x2="733.08" y2="270.7" stroke="#f23645" stroke-width="0.8" stroke-opacity="0.65"/>
<rect x="731.43" y="259.1" width="3.3" height="4.9" fill="#f23645"/>
<line x1="736.89" y1="255.8" x2="736.89" y2="273.2" stroke="#f23645" stroke-width="0.8" stroke-opacity="0.65"/>
<rect x="735.25" y="264.0" width="3.3" height="3.7" fill="#f23645"/>
<line x1="740.71" y1="265.2" x2="740.71" y2="285.7" stroke="#f23645" stroke-width="0.8" stroke-opacity="0.65"/>
<rect x="739.06" y="267.7" width="3.3" height="17.1" fill="#f23645"/>
<line x1="744.52" y1="279.0" x2="744.52" y2="314.0" stroke="#f23645" stroke-width="0.8" stroke-opacity="0.65"/>
<rect x="742.88" y="284.8" width="3.3" height="6.2" fill="#f23645"/>
<line x1="748.34" y1="286.5" x2="748.34" y2="302.3" stroke="#f23645" stroke-width="0.8" stroke-opacity="0.65"/>
<rect x="746.69" y="291.0" width="3.3" height="8.3" fill="#f23645"/>
<line x1="752.15" y1="292.7" x2="752.15" y2="299.8" stroke="#0a9a80" stroke-width="0.8" stroke-opacity="0.65"/>
<rect x="750.50" y="298.2" width="3.3" height="1.3" fill="#0a9a80"/>
<line x1="755.97" y1="292.3" x2="755.97" y2="311.0" stroke="#f23645" stroke-width="0.8" stroke-opacity="0.65"/>
<rect x="754.32" y="299.0" width="3.3" height="11.7" fill="#f23645"/>
<line x1="759.78" y1="296.5" x2="759.78" y2="318.2" stroke="#0a9a80" stroke-width="0.8" stroke-opacity="0.65"/>
<rect x="758.13" y="309.3" width="3.3" height="1.7" fill="#0a9a80"/>
<line x1="763.60" y1="286.5" x2="763.60" y2="311.5" stroke="#0a9a80" stroke-width="0.8" stroke-opacity="0.65"/>
<rect x="761.95" y="299.8" width="3.3" height="10.0" fill="#0a9a80"/>
<line x1="767.41" y1="282.3" x2="767.41" y2="315.7" stroke="#0a9a80" stroke-width="0.8" stroke-opacity="0.65"/>
<rect x="765.76" y="288.2" width="3.3" height="11.6" fill="#0a9a80"/>
</g>
<path d="M107.1 278.4 L109.5 283.5 L111.9 288.5 L114.3 293.4 L116.7 298.1 L119.0 302.8 L121.4 307.3 L123.8 311.7 L126.2 316.1 L128.6 320.3 L131.0 324.4 L133.4 328.4 L135.8 332.3 L138.1 336.1 L140.5 339.7 L142.9 343.3 L145.3 346.8 L147.7 350.1 L150.1 353.4 L152.5 356.5 L154.9 359.6 L157.2 362.5 L159.6 365.3 L162.0 368.1 L164.4 370.7 L166.8 373.2 L169.2 375.6 L171.6 377.9 L174.0 380.1 L176.3 382.2 L178.7 384.2 L181.1 386.1 L183.5 387.9 L185.9 389.6 L188.3 391.1 L190.7 392.6 L193.1 394.0 L195.4 395.2 L197.8 396.4 L200.2 397.5 L202.6 398.4 L205.0 399.3 L207.4 400.1 L209.8 400.7 L212.2 401.3 L214.5 401.7 L216.9 402.1 L219.3 402.3 L221.7 402.5 L224.1 402.5 L226.5 402.5 L228.9 402.3 L231.3 402.1 L233.6 401.7 L236.0 401.2 L238.4 400.7 L240.8 400.0 L243.2 399.2 L245.6 398.4 L248.0 397.4 L250.4 396.3 L252.7 395.0 L255.1 393.7 L257.5 392.3 L259.9 390.7 L262.3 389.0 L264.7 387.2 L267.1 385.2 L269.5 383.2 L271.8 381.0 L274.2 378.7 L276.6 376.2 L279.0 373.7 L281.4 371.0 L283.8 368.1 L286.2 365.1 L288.6 362.0 L291.0 358.8 L293.3 355.4 L295.7 351.8 L298.1 348.2 L300.5 344.3 L302.9 340.4 L305.3 336.2 L307.7 332.0 L310.1 327.5 L312.4 323.0 L314.8 318.2 L317.2 313.3 L319.6 308.2 L322.0 303.0 L324.4 297.6 L326.8 292.0 L329.2 286.3 L331.5 280.5 L333.9 274.6 L336.3 268.8 L338.7 263.0 L341.1 257.3 L343.5 251.6 L345.9 245.9 L348.3 240.3 L350.6 234.8 L353.0 229.3 L355.4 223.9 L357.8 218.6 L360.2 213.4 L362.6 208.2 L365.0 203.2 L367.4 198.3 L369.7 193.4 L372.1 188.7 L374.5 184.1 L376.9 179.6 L379.3 175.1 L381.7 170.8 L384.1 166.6 L386.5 162.4 L388.8 158.4 L391.2 154.4 L393.6 150.6 L396.0 146.8 L398.4 143.2 L400.8 139.7 L403.2 136.2 L405.6 132.9 L407.9 129.6 L410.3 126.5 L412.7 123.4 L415.1 120.4 L417.5 117.6 L419.9 114.8 L422.3 112.2 L424.7 109.6 L427.0 107.2 L429.4 104.8 L431.8 102.5 L434.2 100.4 L436.6 98.3 L439.0 96.3 L441.4 94.5 L443.8 92.7 L446.1 91.0 L448.5 89.5 L450.9 88.0 L453.3 86.6 L455.7 85.3 L458.1 84.2 L460.5 83.1 L462.9 82.1 L465.3 81.2 L467.6 80.4 L470.0 79.8 L472.4 79.2 L474.8 78.7 L477.2 78.3 L479.6 78.0 L482.0 77.8 L484.4 77.7 L486.7 77.7 L489.1 77.9 L491.5 78.1 L493.9 78.4 L496.3 78.8 L498.7 79.3 L501.1 79.9 L503.5 80.6 L505.8 81.4 L508.2 82.3 L510.6 83.3 L513.0 84.4 L515.4 85.6 L517.8 86.9 L520.2 88.3 L522.6 89.8 L524.9 91.4 L527.3 93.1 L529.7 94.9 L532.1 96.8 L534.5 98.8 L536.9 100.9 L539.3 103.1 L541.7 105.4 L544.0 107.9 L546.4 110.4 L548.8 113.0 L551.2 115.8 L553.6 118.6 L556.0 121.6 L558.4 124.6 L560.8 127.8 L563.1 131.1 L565.5 134.5 L567.9 138.0 L570.3 141.6 L572.7 145.3 L575.1 149.2 L577.5 153.1 L579.9 157.2 L582.2 161.3 L584.6 165.6 L587.0 170.0 L589.4 174.5 L591.8 179.2 L594.2 184.0 L596.6 188.9 L599.0 194.0 L601.3 199.3 L603.7 204.7 L606.1 210.3 L608.5 216.2 L610.9 222.2 L613.3 228.4 L615.7 234.9 L618.1 241.6 L620.4 248.5 L622.8 255.7 L625.2 263.1 L627.6 270.8 L630.0 278.8" fill="none" stroke="#000" stroke-width="1.7" stroke-linecap="butt" stroke-linejoin="round"/>
<ellipse cx="488.9" cy="64.6" rx="12.8" ry="18.2" transform="rotate(25 488.9 64.6)" fill="none" stroke="#9c27b0" stroke-width="1.5"/>
<ellipse cx="309.5" cy="367.5" rx="12.8" ry="18.2" transform="rotate(25 309.5 367.5)" fill="none" stroke="#9c27b0" stroke-width="1.5"/>
<path d="M381.5 336.5 L474 155.5 M459 160.3 L474 155.5 L478.2 170" fill="none" stroke="#5b8df6" stroke-width="2" stroke-linecap="round" stroke-linejoin="round"/>
<path d="M572.2 90.5 L740.6 197.3 M737.4 183.3 L740.6 197.3 L725.8 200.8" fill="none" stroke="#5b8df6" stroke-width="2" stroke-linecap="round" stroke-linejoin="round"/>
<text class="grn" x="446.2" y="244.3" textLength="57">Markup</text>
<text class="grn" x="637" y="118.9" textLength="80">Markdown</text>
<path d="M323.5 20.5 H386.5 a3 3 0 0 1 3 3 V41.2 L469.7 48.7 L386 46 H323.5 a3 3 0 0 1 -3 -3 V23.5 a3 3 0 0 1 3 -3 Z" fill="#aac4fb" stroke="#6673f0" stroke-width="1.2" stroke-linejoin="round"/>
<text class="lbl" x="327" y="38" font-size="14" textLength="57.5">The Test</text>
<path d="M357 373.8 H436.7 a3 3 0 0 1 3 3 V395.3 a3 3 0 0 1 -3 3 H357.3 a3 3 0 0 1 -3 -3 V378.5 L332.2 370 Z" fill="#aac4fb" stroke="#6673f0" stroke-width="1.2" stroke-linejoin="round"/>
<text class="lbl" x="361" y="390.8" font-size="14" textLength="73.2">The Spring</text>
<path d="M500.2 15.6 H752.2 a3 3 0 0 1 3 3 V35.7 a3 3 0 0 1 -3 3 H632.5 L580.4 63.2 L619.4 38.7 H500.2 a3 3 0 0 1 -3 -3 V18.6 a3 3 0 0 1 3 -3 Z" fill="#fdd2d5" stroke="#f9a1a6" stroke-width="1.2" stroke-linejoin="round"/>
<text class="lbl" x="503.5" y="31.7" font-size="12.1" textLength="245">The typical range of the distribution phase</text>
<path d="M10.2 414.8 H137.3 L154.6 383.5 L145.6 414.8 H272.4 a3 3 0 0 1 3 3 V434.6 a3 3 0 0 1 -3 3 H10.2 a3 3 0 0 1 -3 -3 V417.8 a3 3 0 0 1 3 -3 Z" fill="#fdc987" stroke="#f7931a" stroke-width="1.5" stroke-linejoin="round"/>
<text class="lbl" x="13.5" y="430" font-size="12.1" textLength="255.7">The typical range of the accumulation phase</text>
<circle cx="7.2" cy="7.6" r="3.4" fill="#2a5fb4"/>
<circle cx="11.3" cy="4" r="2.3" fill="#e9455a" stroke="#fff" stroke-width="0.6"/>
<text x="15.8" y="9.8" font-size="8.3" fill="#131722" textLength="111.7" lengthAdjust="spacingAndGlyphs">Euro / U.S. Dollar · 4h · OANDA</text>
<circle cx="140.8" cy="6.7" r="4.3" fill="#fce4ec"/>
<path d="M138.9 5.7 H142.7 M138.9 7.7 H142.7" stroke="#e91e63" stroke-width="0.9"/>
</svg></body></html>
